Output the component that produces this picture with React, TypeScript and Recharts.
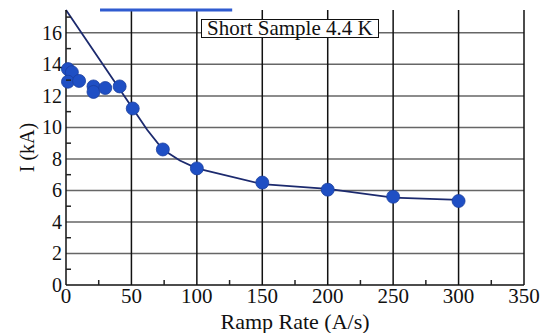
import React from 'react';
import { ComposedChart, Line, Scatter, XAxis, YAxis, CartesianGrid, ReferenceLine } from 'recharts';

// measured points: ramp rate (A/s) vs quench current (kA)
const rampRates = [1.5, 4.5, 1.5, 10, 21, 21, 30, 41, 51, 74, 100, 150, 200, 250, 300];
const currents = [13.7, 13.5, 12.9, 12.95, 12.6, 12.25, 12.5, 12.6, 11.2, 8.6, 7.4, 6.5, 6.05, 5.6, 5.33];

// fitted curve
const fitRates = [0, 51, 62, 74, 87, 100, 150, 200, 250, 300];
const fitCurrents = [17.45, 11.2, 9.85, 8.6, 7.9, 7.4, 6.4, 6.1, 5.55, 5.4];

const xTicks = [0, 25, 50, 75, 100, 125, 150, 175, 200, 225, 250, 275, 300, 325, 350];
const yTicks = [0, 1, 2, 3, 4, 5, 6, 7, 8, 9, 10, 11, 12, 13, 14, 15, 16, 17];
const xGrid = [50, 100, 150, 200, 250, 300];
const yGrid = [2, 4, 6, 8, 10, 12, 14, 16];

const points = rampRates.map((r, i) => ({ rate: r, current: currents[i] }));
const fit = fitRates.map((r, i) => ({ rate: r, current: fitCurrents[i] }));

const FONT = 'Times New Roman, Liberation Serif, serif';

const BottomTick = (props: any) => {
  const { x, y, payload } = props;
  const v = payload.value;
  if (v % 50 === 0) {
    return (
      <text x={x} y={y + 18} textAnchor="middle" style={{ fontFamily: FONT }} fontSize={21} fill="#111">
        {v}
      </text>
    );
  }
  return <line x1={x} x2={x} y1={y} y2={y - 5} stroke="#222" strokeWidth={1.5} />;
};

const TopTick = (props: any) => {
  const { x, y, payload } = props;
  if (payload.value % 50 === 0) return <g />;
  return <line x1={x} x2={x} y1={y} y2={y + 5} stroke="#222" strokeWidth={1.5} />;
};

const LeftTick = (props: any) => {
  const { x, y, payload } = props;
  const v = payload.value;
  if (v % 2 === 0) {
    return (
      <text x={x - 4} y={y + 7} textAnchor="end" style={{ fontFamily: FONT }} fontSize={20} fill="#111">
        {v}
      </text>
    );
  }
  return <line x1={x} x2={x + 5} y1={y} y2={y} stroke="#222" strokeWidth={1.5} />;
};

const RightTick = (props: any) => {
  const { x, y, payload } = props;
  if (payload.value % 2 === 0) return <g />;
  return <line x1={x} x2={x - 5} y1={y} y2={y} stroke="#222" strokeWidth={1.5} />;
};

const Dot = (props: any) => <circle cx={props.cx} cy={props.cy} r={6.5} fill="#1f4fc4" stroke="#1a3f9e" strokeWidth={0.8} />;

export default function App() {
  return (
    <div style={{ position: 'absolute', left: 0, top: 0, width: 545, height: 333, background: '#fff', fontFamily: FONT }}>
      <ComposedChart width={545} height={333} margin={{ top: 10, right: 0, left: 0, bottom: 0 }} style={{ fontFamily: FONT }}>
        <CartesianGrid horizontal={true} vertical={false} horizontalValues={yGrid} stroke="#666" strokeWidth={1.5} />
        <CartesianGrid horizontal={false} vertical={true} verticalValues={xGrid} stroke="#111" strokeWidth={1.5} />
        <XAxis
          dataKey="rate"
          type="number"
          domain={[0, 350]}
          ticks={xTicks}
          interval={0}
          tick={<BottomTick />}
          tickSize={0}
          tickMargin={0}
          tickLine={false}
          axisLine={{ stroke: '#111', strokeWidth: 1.5 }}
          height={48}
          label={{ value: 'Ramp Rate (A/s)', position: 'insideBottom', offset: 4, fontSize: 22, fill: '#111', style: { fontFamily: FONT } }}
        />
        <XAxis
          xAxisId="top"
          orientation="top"
          type="number"
          domain={[0, 350]}
          ticks={xTicks}
          interval={0}
          tick={<TopTick />}
          tickSize={0}
          tickMargin={0}
          tickLine={false}
          axisLine={{ stroke: '#111', strokeWidth: 1.5 }}
          height={0}
        />
        <YAxis
          dataKey="current"
          type="number"
          domain={[0, 17.45]}
          ticks={yTicks}
          interval={0}
          tick={<LeftTick />}
          tickSize={0}
          tickMargin={0}
          tickLine={false}
          axisLine={{ stroke: '#111', strokeWidth: 1.5 }}
          width={66}
          label={{ value: 'I (kA)', angle: -90, position: 'insideLeft', offset: 27, fontSize: 20, fill: '#111', style: { textAnchor: 'middle', fontFamily: FONT } }}
        />
        <YAxis
          yAxisId="right"
          orientation="right"
          type="number"
          domain={[0, 17.45]}
          ticks={yTicks}
          interval={0}
          tick={<RightTick />}
          tickSize={0}
          tickMargin={0}
          tickLine={false}
          axisLine={{ stroke: '#111', strokeWidth: 1.5 }}
          width={21}
        />
        <ReferenceLine
          segment={[{ x: 26, y: 17.45 }, { x: 127, y: 17.45 }]}
          stroke="#2f5bd0"
          strokeWidth={3}
          ifOverflow="visible"
        />
        <Line
          data={fit}
          dataKey="current"
          type="linear"
          stroke="#1c2a6e"
          strokeWidth={1.8}
          dot={false}
          activeDot={false}
          isAnimationActive={false}
        />
        <Scatter data={points} dataKey="current" shape={<Dot />} isAnimationActive={false} />
      </ComposedChart>
      <div
        style={{
          position: 'absolute',
          left: 201,
          top: 19,
          border: '1.5px solid #111',
          background: '#fff',
          fontFamily: FONT,
          fontSize: 21,
          color: '#111',
          padding: '0 5px',
          lineHeight: '17px',
          height: 17,
          whiteSpace: 'nowrap',
        }}
      >
        Short Sample 4.4 K
      </div>
    </div>
  );
}
